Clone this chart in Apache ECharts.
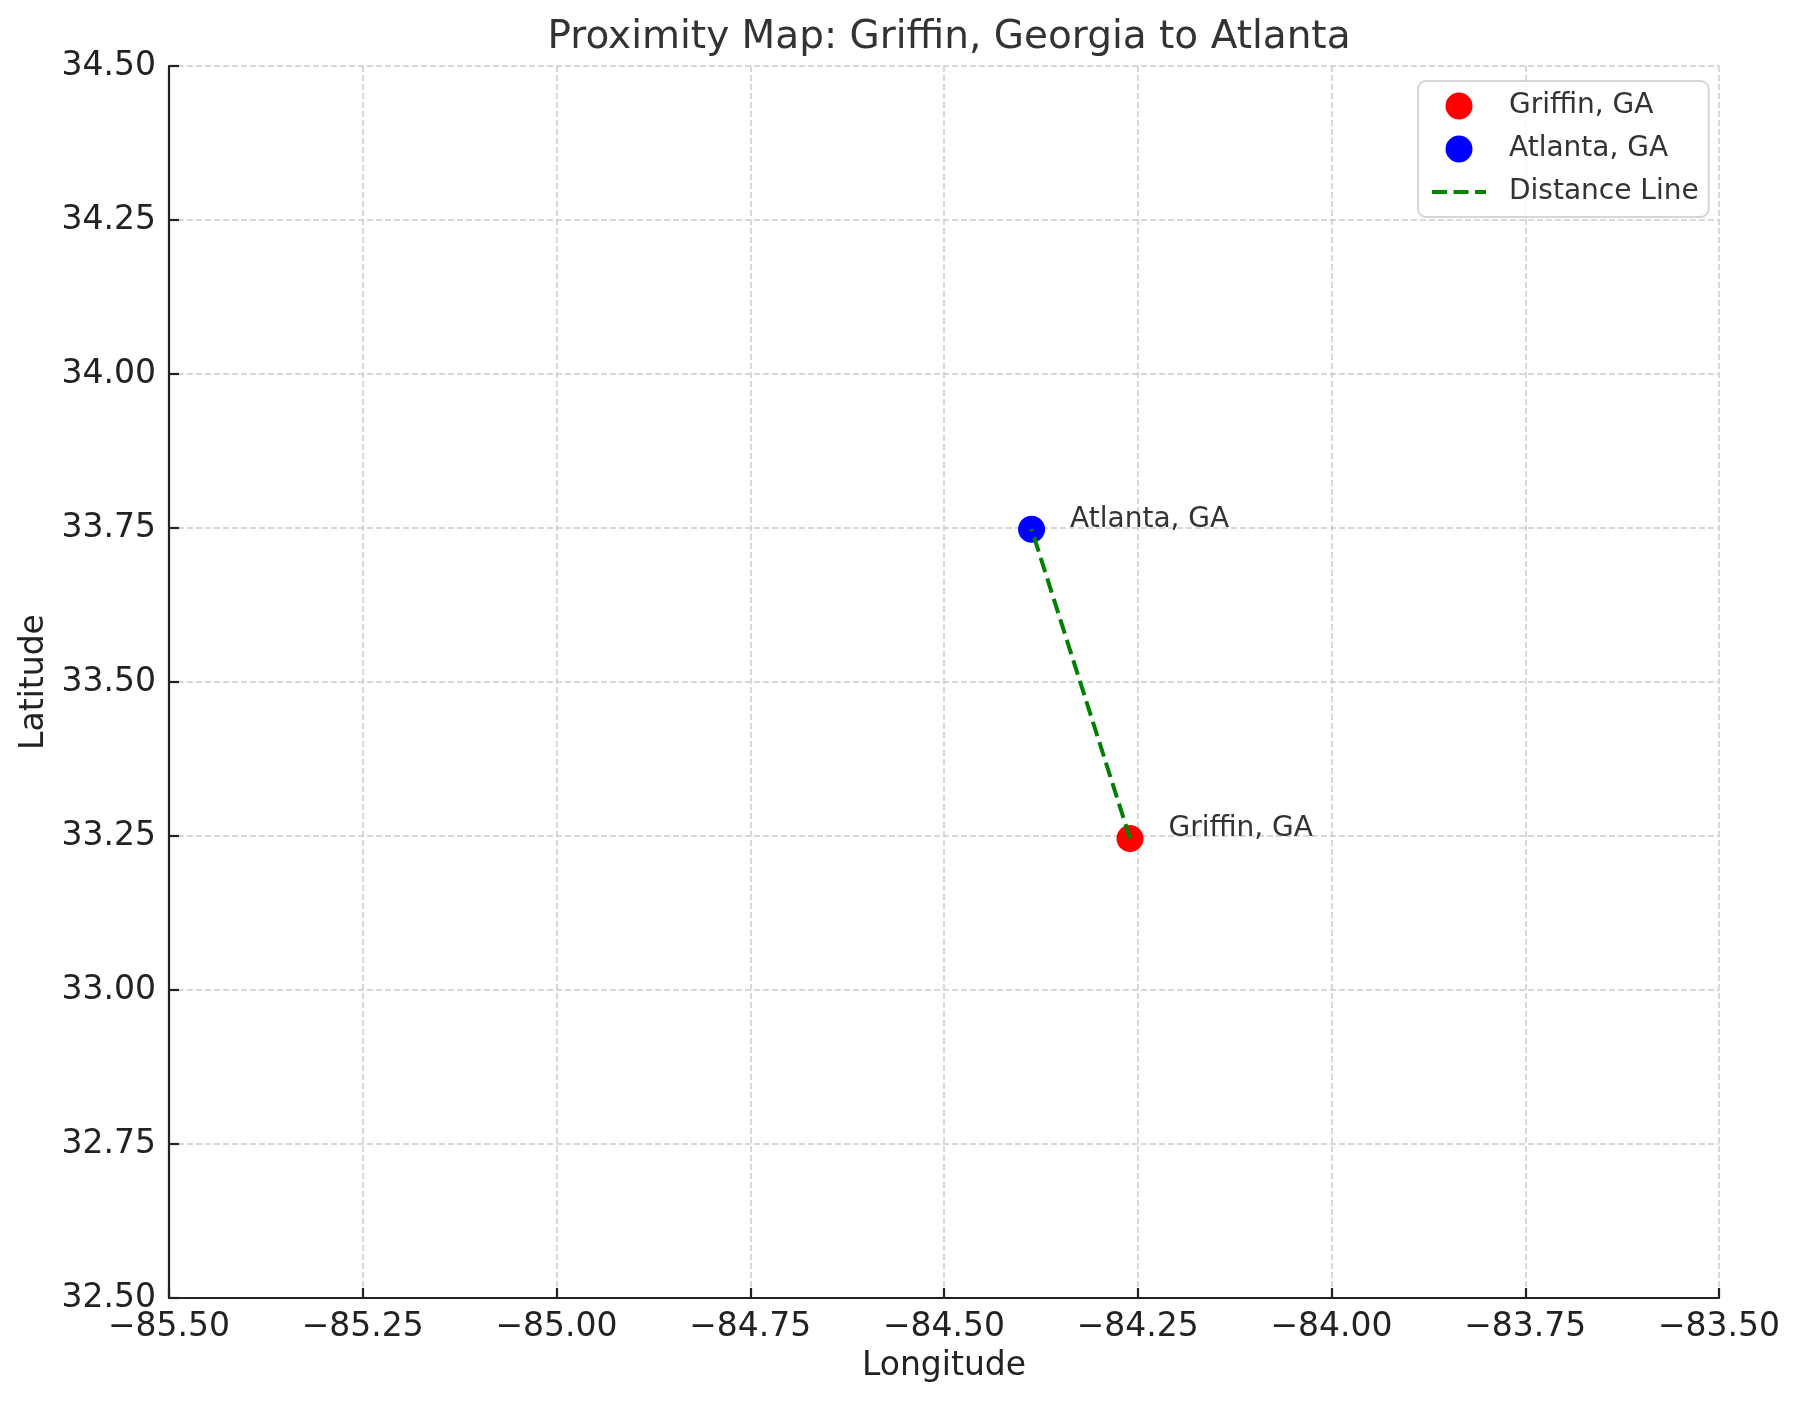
<!DOCTYPE html>
<html>
<head>
<meta charset="utf-8">
<script src="https://cdn.jsdelivr.net/npm/echarts@6/dist/echarts.min.js"></script>
<style>
  html, body { margin: 0; padding: 0; background: #fff; }
  #chart { width: 1801px; height: 1405px; }
</style>
</head>
<body>
<div id="chart"></div>
<script>
// city positions (lon, lat)
const cityNames = ['Griffin, GA', 'Atlanta, GA']
const cityLon = [-84.26, -84.387]
const cityLat = [33.246, 33.748]
const lineName = 'Distance Line'

const lonMin = -85.5
const lonMax = -83.5
const latMin = 32.5
const latMax = 34.5
const tickStep = 0.25

const FONT = 'DejaVu Sans'
const fmt = (v) => v.toFixed(2).replace('-', '\u2212')

const gridLine = { show: true, lineStyle: { color: '#cccccc', width: 1.5, type: [6, 3] } }
const distanceStyle = { color: '#008000', width: 4, type: [15, 6.5] }

function cityPoint(i) {
  return [cityLon[i], cityLat[i]]
}

function citySeries(i, color) {
  return {
    name: cityNames[i],
    type: 'scatter',
    symbol: 'circle',
    symbolSize: 27,
    z: 2,
    itemStyle: { color: color, opacity: 1 },
    label: {
      show: true,
      position: 'right',
      distance: 25,
      offset: [0, -10],
      formatter: cityNames[i],
      fontFamily: FONT,
      fontSize: 28,
      color: '#333333',
    },
    data: [cityPoint(i)],
  }
}

const chart = echarts.init(document.getElementById('chart'), null, { renderer: 'canvas' })

chart.setOption({
  animation: false,
  backgroundColor: '#ffffff',
  textStyle: { fontFamily: FONT },
  title: {
    text: 'Proximity Map: Griffin, Georgia to Atlanta',
    left: 944,
    top: 13,
    textAlign: 'center',
    textStyle: { fontFamily: FONT, fontSize: 39, fontWeight: 'normal', color: '#333333' },
  },
  grid: { left: 169, right: 82, top: 66, bottom: 107, containLabel: false },
  legend: {
    orient: 'vertical',
    left: 1418,
    top: 81,
    padding: [11, 10, 11, 12],
    itemWidth: 54,
    itemHeight: 27,
    itemGap: 15,
    backgroundColor: 'rgba(255,255,255,0.8)',
    borderColor: '#d6d6d6',
    borderWidth: 2,
    borderRadius: 8,
    textStyle: { fontFamily: FONT, fontSize: 28, color: '#333333', padding: [0, 0, 0, 18] },
    // the line entry keeps its dashed stroke, its centre dot is hidden
    data: [
      cityNames[0],
      cityNames[1],
      { name: lineName, itemStyle: { opacity: 0 }, lineStyle: distanceStyle },
    ],
  },
  xAxis: {
    type: 'value',
    min: lonMin,
    max: lonMax,
    interval: tickStep,
    name: 'Longitude',
    nameLocation: 'middle',
    nameGap: 52,
    nameTextStyle: { fontFamily: FONT, fontSize: 33, color: '#222222' },
    axisLine: { show: true, onZero: false, lineStyle: { color: '#222222', width: 2.2 } },
    axisTick: { show: true, inside: true, length: 10, lineStyle: { color: '#222222', width: 2.2 } },
    axisLabel: { fontFamily: FONT, fontSize: 33, color: '#222222', margin: 13, formatter: fmt, showMinLabel: true, showMaxLabel: true },
    splitLine: gridLine,
  },
  yAxis: {
    type: 'value',
    min: latMin,
    max: latMax,
    interval: tickStep,
    name: 'Latitude',
    nameLocation: 'middle',
    nameGap: 114,
    nameTextStyle: { fontFamily: FONT, fontSize: 33, color: '#222222' },
    axisLine: { show: true, onZero: false, lineStyle: { color: '#222222', width: 2.2 } },
    axisTick: { show: true, inside: true, length: 10, lineStyle: { color: '#222222', width: 2.2 } },
    axisLabel: { fontFamily: FONT, fontSize: 33, color: '#222222', margin: 13, formatter: fmt, showMinLabel: true, showMaxLabel: true },
    splitLine: gridLine,
  },
  series: [
    citySeries(0, '#ff0000'),
    citySeries(1, '#0000ff'),
    {
      name: lineName,
      type: 'line',
      z: 3,
      symbol: 'none',
      showSymbol: false,
      lineStyle: distanceStyle,
      itemStyle: { color: '#008000' },
      data: [cityPoint(0), cityPoint(1)],
    },
  ],
})
</script>
</body>
</html>
